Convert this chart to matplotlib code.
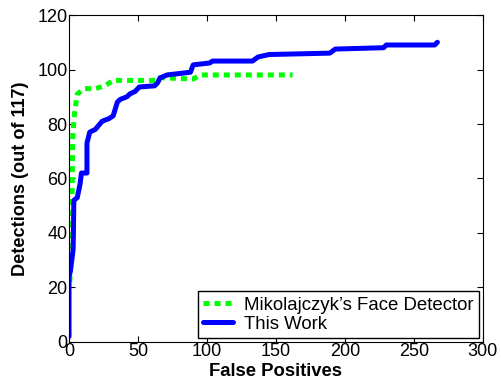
import numpy as np
import matplotlib.pyplot as plt

plt.rcParams['font.family'] = ['Liberation Sans', 'DejaVu Sans']

# Mikolajczyk's detector (dotted green)
fp_miko = [0.5, 1.5, 2, 2.3, 2.6, 4, 6, 11, 19, 26, 32, 64, 66, 90, 95, 162]
det_miko = [22, 31, 45, 56, 75, 84, 91, 93, 93, 94, 96, 96, 97, 96.5, 98, 98]

# This work (solid blue)
fp_ours = [0, 0, 1, 2, 3, 3.5, 6, 8, 9, 13, 13, 15, 19, 24, 29, 32, 35, 37, 42, 44,
           48, 51, 62, 64, 66, 71, 88, 90, 102, 104, 133, 137, 145, 189, 193, 228,
           230, 265, 267]
det_ours = [2, 24, 26, 30, 34, 52, 53, 58, 62, 62, 73, 77, 78, 81, 82, 83, 88, 89, 90, 91,
            92, 93.6, 94, 95, 96.9, 98, 99, 101.7, 102.4, 103.1, 103.1, 104.6, 105.5,
            106, 107.5, 108, 109, 109, 110]

fig = plt.figure(figsize=(5.02, 3.81), dpi=100)
ax = fig.add_axes([0.1375, 0.1024, 0.8245, 0.8582])

ax.plot(fp_miko, det_miko, color='#00ff00', linewidth=3.6, dashes=(1.2, 1.0),
        label="Mikolajczyk\u2019s Face Detector")
ax.plot(fp_ours, det_ours, color='#0000ff', linewidth=3.6, solid_capstyle='round',
        label='This Work')

ax.set_xlim(0, 300)
ax.set_ylim(0, 120)
ax.set_xticks(np.arange(0, 301, 50))
ax.set_yticks(np.arange(0, 121, 20))
ax.tick_params(direction='in', top=True, right=True, labelsize=13, length=4, pad=1)
ax.set_xlabel('False Positives', fontsize=13.3, fontweight='bold', labelpad=2)
ax.set_ylabel('Detections (out of 117)', fontsize=13.1, fontweight='bold', labelpad=6)

leg = ax.legend(loc='lower right', fontsize=13.4, fancybox=False, framealpha=1,
                edgecolor='black', borderaxespad=0.2, handlelength=1.6,
                handletextpad=0.6, borderpad=0.3, labelspacing=0.1)
leg.get_frame().set_linewidth(1.0)

fig.savefig('out.png', dpi=100)
